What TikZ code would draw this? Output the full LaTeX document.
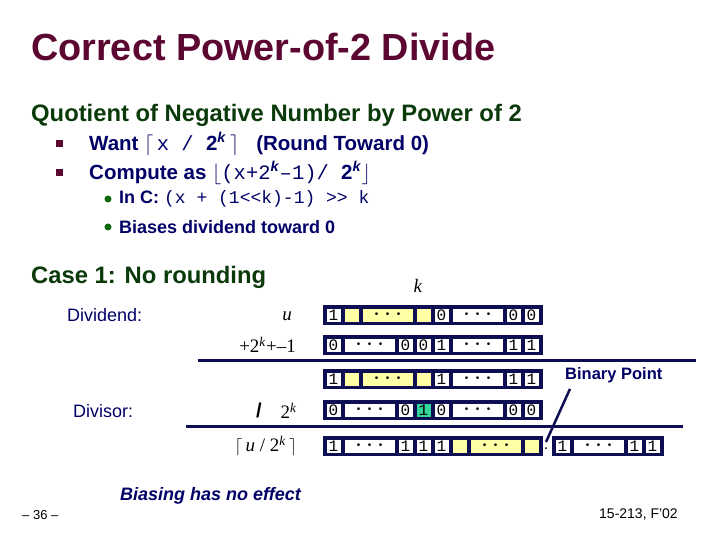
\documentclass[tikz,border=0pt]{standalone}
\usepackage{fontspec}
\setmainfont{Liberation Sans}
\newfontfamily\codefont{Liberation Mono}
\newfontfamily\serifont{Liberation Serif}
\usetikzlibrary{positioning, calc}
\definecolor{slidemaroon}{HTML}{5C0632}
\definecolor{slidegreen}{HTML}{0A3A0A}
\definecolor{slidenavy}{HTML}{000066}
\definecolor{cellframe}{HTML}{0E0E52}
\definecolor{cellyellow}{HTML}{FFFFA6}
\definecolor{cellgreen}{HTML}{33D69A}
\definecolor{bulletgreen}{HTML}{0B6B0B}

\newcommand{\fsz}[1]{\fontsize{#1}{#1}\selectfont}
\newcommand{\bitdots}{{\fsz{10}\textbullet\hspace{5pt}\textbullet\hspace{5pt}\textbullet}}
\newcommand{\supk}{\textsuperscript{\textit{k}}}

\tikzset{
  rowframe/.style={fill=cellframe, minimum height=20pt, minimum width=#1*18pt+4pt, inner sep=0pt, outer sep=0pt, anchor=west},
  bitcell/.style={minimum height=13pt, inner sep=0pt, outer sep=0pt, anchor=west, font=\codefont\fsz{16}},
  sqbullet/.style={fill=slidemaroon, minimum size=7pt, inner sep=0pt},
  dotbullet/.style={circle, fill=bulletgreen, minimum size=7pt, inner sep=0pt},
  itemtext/.style={anchor=west, inner sep=0pt, text=slidenavy, font=\bfseries\fsz{20.5}},
  subtext/.style={anchor=west, inner sep=0pt, text=slidenavy, font=\bfseries\fsz{18}},
  leftlbl/.style={anchor=west, inner sep=0pt, text=slidenavy, font=\fsz{18}},
  mathlbl/.style={anchor=east, inner sep=0pt, font=\serifont\fsz{19}},
  sumrule/.style={draw=cellframe, line width=3pt},
  pointer/.style={draw=cellframe, line width=2.5pt}
}

% one row of bit cells: name, left x, y, units, cells (start/len/fill/text)
\newcommand{\bitrow}[5]{%
  \node[rowframe=#4] (#1) at (#2-2, #3) {};
  \foreach \s/\n/\f/\t [count=\i] in {#5}
    \node[bitcell, fill=\f, minimum width=\n*18pt-4pt] (#1-\i) at (#2+\s*18+2, #3) {\t};
}

\begin{document}
\begin{tikzpicture}[x=1pt, y=-1pt]
  \useasboundingbox (0,0) rectangle (720,540);

  % headings
  \node[anchor=west, inner sep=0pt, text=slidemaroon, font=\bfseries\fsz{37.8}] (title) at (31,47) {Correct Power-of-2 Divide};
  \node[anchor=west, inner sep=0pt, text=slidegreen, font=\bfseries\fsz{23.8}] (subhead) at (31,115) {Quotient of Negative Number by Power of 2};

  % bullets
  \node[sqbullet] (sq1) at (59,144) {};
  \node[itemtext] (want) at (89,144) {Want $\lceil$\,{\codefont\mdseries x / }2\supk\,$\rceil$\ \ \ (Round Toward 0)};
  \node[sqbullet] (sq2) at (59,173) {};
  \node[itemtext] (compute) at (89,173) {Compute as $\lfloor${\codefont\mdseries (x+2}\supk{\codefont\mdseries \textendash1)/ }2\supk$\rfloor$};
  \node[dotbullet] (dot1) at (108,199) {};
  \node[subtext] (inc) at (119,199) {In C: {\codefont\mdseries\fsz{18}(x + (1<<k)-1) >> k}};
  \node[dotbullet] (dot2) at (108,227) {};
  \node[subtext] (biases) at (119,227) {Biases dividend toward 0};

  % case heading
  \node[anchor=west, inner sep=0pt, text=slidegreen, font=\bfseries\fsz{23.8}] (case) at (31,277) {Case 1: No rounding};
  \node[mathlbl, anchor=center] (klbl) at (418,286) {\textit{k}};

  % left labels
  \node[leftlbl] (dividend) at (67,315) {Dividend:};
  \node[leftlbl] (divisor) at (73,411) {Divisor:};

  % operand labels
  \node[mathlbl] (ulbl) at (292,316) {\textit{u}};
  \node[mathlbl] (biaslbl) at (296,345) {+2\supk+\textendash1};
  \node[mathlbl, font=\bfseries\fsz{20}] (slashlbl) at (262,410) {/};
  \node[mathlbl] (twok) at (297,411) {2\supk};
  \node[mathlbl] (quotlbl) at (297,446) {$\lceil$\,\textit{u} / 2\supk\,$\rceil$};

  % bit rows
  \bitrow{urow}{324.5}{315}{12}{0/1/white/1, 1/1/cellyellow/, 2/3/cellyellow/\bitdots, 5/1/cellyellow/, 6/1/white/0, 7/3/white/\bitdots, 10/1/white/0, 11/1/white/0}
  \bitrow{biasrow}{324.5}{345}{12}{0/1/white/0, 1/3/white/\bitdots, 4/1/white/0, 5/1/white/0, 6/1/white/1, 7/3/white/\bitdots, 10/1/white/1, 11/1/white/1}
  \bitrow{sumrow}{324.5}{379}{12}{0/1/white/1, 1/1/cellyellow/, 2/3/cellyellow/\bitdots, 5/1/cellyellow/, 6/1/white/1, 7/3/white/\bitdots, 10/1/white/1, 11/1/white/1}
  \bitrow{divrow}{324.5}{410}{12}{0/1/white/0, 1/3/white/\bitdots, 4/1/white/0, 5/1/cellgreen/1, 6/1/white/0, 7/3/white/\bitdots, 10/1/white/0, 11/1/white/0}
  \bitrow{quotrow}{324.5}{446}{12}{0/1/white/1, 1/3/white/\bitdots, 4/1/white/1, 5/1/white/1, 6/1/white/1, 7/1/cellyellow/, 8/3/cellyellow/\bitdots, 11/1/cellyellow/}
  \bitrow{fracrow}{553.5}{446}{6}{0/1/white/1, 1/3/white/\bitdots, 4/1/white/1, 5/1/white/1}

  % sum lines
  \draw[sumrule] (198,360) -- (696,360);
  \draw[sumrule] (186,426) -- (683,426);

  % binary point
  \node[inner sep=0pt, font=\fsz{16}] (bpt) at (546,449) {.};
  \node[anchor=west, inner sep=0pt, text=slidenavy, font=\bfseries\fsz{16.5}] (bplabel) at (565,375) {Binary Point};
  \draw[pointer] ($(bplabel.south west)+(5,6)$) -- ($(bpt.north)+(0,-6)$);

  % footer
  \node[anchor=west, inner sep=0pt, text=slidenavy, font=\bfseries\itshape\fsz{18}] (effect) at (120,496) {Biasing has no effect};
  \node[anchor=west, inner sep=0pt, font=\fsz{13}] (pagenum) at (22,515) {-- 36 --};
  \node[anchor=east, inner sep=0pt, font=\fsz{14}] (course) at (678,515) {15-213, F'02};
\end{tikzpicture}
\end{document}
